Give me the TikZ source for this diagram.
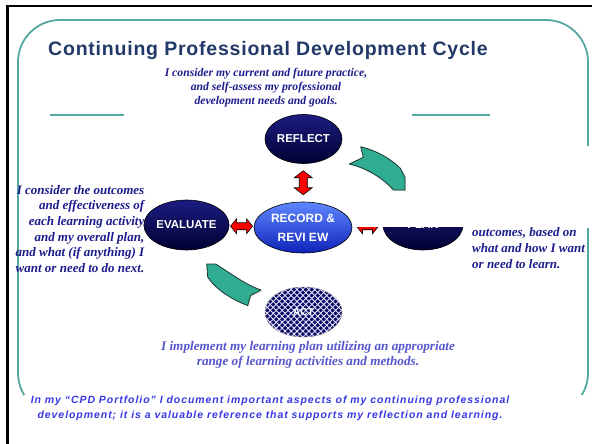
\documentclass[tikz,border=0pt]{standalone}
\usepackage{fontspec}
\setmainfont{Liberation Serif}
\setsansfont{Liberation Sans}
\newfontfamily\titlefont[LetterSpace=4]{Liberation Sans}
\newfontfamily\footfont[LetterSpace=9]{Liberation Sans}
\usetikzlibrary{shapes.geometric,patterns,patterns.meta,shadows,calc}
\definecolor{tealframe}{RGB}{85,168,162}
\definecolor{titleblue}{RGB}{33,56,104}
\definecolor{descblue}{RGB}{28,28,140}
\definecolor{footblue}{RGB}{55,55,230}
\definecolor{actblue}{RGB}{85,85,205}
\definecolor{navyA}{RGB}{28,28,130}
\definecolor{navyB}{RGB}{0,0,50}
\definecolor{recA}{RGB}{95,135,255}
\definecolor{recB}{RGB}{15,35,185}
\definecolor{arrowteal}{RGB}{48,172,146}
\definecolor{arrowedge}{RGB}{25,55,45}
\definecolor{actnavy}{RGB}{10,10,100}
\newcommand\cpdDblV[1]{\filldraw[redarr] #1 ++(0,-12) -- ++(9,7) -- ++(-5,0) -- ++(0,10) -- ++(5,0) -- ++(-9,7) -- ++(-9,-7) -- ++(5,0) -- ++(0,-10) -- ++(-5,0) -- cycle;}
\newcommand\cpdDblH[1]{\filldraw[redarr] #1 ++(-11,0) -- ++(6,-7.5) -- ++(0,4) -- ++(10,0) -- ++(0,-4) -- ++(6,7.5) -- ++(-6,7.5) -- ++(0,-4) -- ++(-10,0) -- ++(0,4) -- cycle;}
\tikzset{
  darkell/.style={ellipse, draw=black, line width=0.6pt, top color=navyA, bottom color=navyB,
    minimum width=77pt, minimum height=49pt, inner sep=0pt, text=white,
    font=\sffamily\bfseries\fontsize{11.5}{13}\selectfont},
  recell/.style={ellipse, draw=black, line width=0.6pt, top color=recA, bottom color=recB,
    minimum width=98pt, minimum height=51pt, inner sep=0pt, text=white, align=center,
    font=\sffamily\bfseries\fontsize{12}{19}\selectfont},
  actell/.style={ellipse, draw=gray, line width=0.5pt, fill=actnavy,
    postaction={pattern={Lines[angle=45,distance=4.2pt,line width=0.9pt]}, pattern color=white!90!blue},
    postaction={pattern={Lines[angle=-45,distance=4.2pt,line width=0.9pt]}, pattern color=white!90!blue},
    minimum width=77pt, minimum height=50pt, inner sep=0pt, text=white,
    font=\sffamily\bfseries\fontsize{10}{12}\selectfont},
  desc/.style={inner sep=0pt, text=descblue, font=\bfseries\itshape\fontsize{13}{15.7}\selectfont},
  redarr/.style={fill=red, draw=black, line width=0.6pt, line join=miter},
  tealarr/.style={fill=arrowteal, draw=arrowedge, line width=0.8pt, line join=round,
    drop shadow={opacity=0.25, shadow xshift=1.2pt, shadow yshift=-1.2pt}},
  cover/.style={fill=white, draw=none}
}
\begin{document}
\begin{tikzpicture}[x=1pt,y=-1pt]
\useasboundingbox (0,0) rectangle (592,444);
\fill[white] (0,0) rectangle (592,444);
% outer black border
\draw[black, line width=2.5pt] (7.5,444) -- (7.5,6) -- (592,6);
% teal rounded frame
\draw[tealframe, line width=1.8pt, rounded corners=42pt] (18,20) rectangle (588,415);
\fill[cover] (24,395) rectangle (587,444);
\fill[cover] (578,146) rectangle (592,228);
% short teal rules
\draw[tealframe, line width=2.6pt] (50,115) -- (124,115);
\draw[tealframe, line width=2.6pt] (412,115) -- (490,115);
% title
\node[inner sep=0pt, text=titleblue, font=\titlefont\bfseries\fontsize{19.5}{22}\selectfont] (title) at (268,51) {Continuing Professional Development Cycle};
% top description
\node[desc, align=center, font=\bfseries\itshape\fontsize{11.7}{14}\selectfont] (reflecttxt) at (266,88)
  {I consider my current and future practice,\\and self-assess my professional\\development needs and goals.};
% left description
\node[desc, align=right, anchor=east] (evaltxt) at (144.5,229)
  {I consider the outcomes\\and effectiveness of\\each learning activity\\and my overall plan,\\and what (if anything) I\\want or need to do next.};
% ellipses
\node[darkell] (reflect) at (303.5,139) {REFLECT};
\node[darkell, minimum height=50pt] (evaluate) at (186.5,225) {EVALUATE};
\node[recell] (record) at (303,227.5) {RECORD \&\\REVI EW};
\node[darkell, minimum width=80pt, minimum height=50pt] (plan) at (423,225) {\raisebox{-2pt}{PLAN}};
\node[actell] (act) at (303.5,312) {ACT};
% red double arrows
\cpdDblV{($(reflect.south)!0.5!(record.north)$)}
\cpdDblH{($(evaluate.east)!0.5!(record.west)$)}
\cpdDblH{($(record.east)!0.5!(plan.west)$)}
% white area hiding the top of PLAN
\fill[cover] (354,191) rectangle (592,227.3);
% right description
\node[desc, align=left, anchor=west, font=\bfseries\itshape\fontsize{13}{16}\selectfont] (plantxt) at (472,248)
  {outcomes, based on\\what and how I want\\or need to learn.};
% teal curved arrows
\filldraw[tealarr] (360.7,146.7) -- (363.3,157.3) -- (349.3,164)
  .. controls (367,168) and (384,179) .. (393.3,190) -- (405,190) -- (405,177.3) -- (400.5,168.5)
  .. controls (390,158) and (377,151) .. cycle;
\filldraw[tealarr] (206.7,264) -- (215.7,264)
  .. controls (230,273) and (246,285) .. (261,290) -- (250.5,295.5) -- (247.7,305.5)
  .. controls (233,300) and (216,290) .. (207.7,277) -- cycle;
% ACT description
\node[desc, align=center, text=actblue, font=\bfseries\itshape\fontsize{13.2}{15}\selectfont] (acttxt) at (308,354.5)
  {I implement my learning plan utilizing an appropriate\\range of learning activities and methods.};
% footer
\node[inner sep=0pt, align=center, text=footblue, font=\footfont\bfseries\itshape\fontsize{10.5}{15}\selectfont] (footer) at (270,408.5)
  {In my “CPD Portfolio” I document important aspects of my continuing professional\\development; it is a valuable reference that supports my reflection and learning.};
\end{tikzpicture}
\end{document}
